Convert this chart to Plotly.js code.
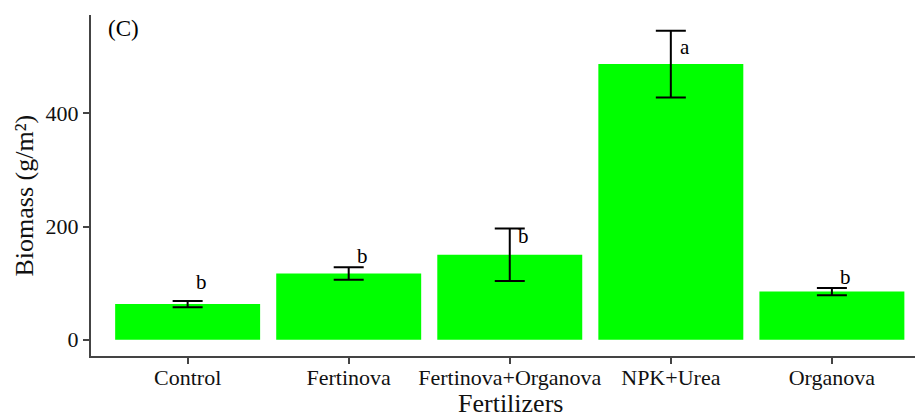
<!DOCTYPE html>
<html>
<head>
<meta charset="utf-8">
<script src="https://cdn.plot.ly/plotly-3.0.1.min.js"></script>
<style>html,body{margin:0;padding:0;background:#fff;}#chart{width:915px;height:417px;}</style>
</head>
<body>
<div id="chart"></div>
<script>
const categories = ["Control", "Fertinova", "Fertinova+Organova", "NPK+Urea", "Organova"];
const biomass = [63, 117, 150, 487, 85];
const biomassErr = [5.5, 11, 46.5, 59, 6.5];
const groupLetters = ["b", "b", "b", "a", "b"];
const letterY = [102, 148, 183, 517, 111];
const yTicks = [0, 200, 400];
const xTitle = "Fertilizers";
const yTitle = "Biomass (g/m²)";
const panelLabel = "(C)";

const serif = "Liberation Serif, Times New Roman, serif";

const trace = {
  type: "bar",
  x: categories,
  y: biomass,
  marker: {color: "#00ff00", line: {width: 0}},
  error_y: {type: "data", array: biomassErr, visible: true, color: "#000000", thickness: 2, width: 15},
  hoverinfo: "x+y"
};

const annotations = categories.map((c, i) => ({
  x: c, y: letterY[i], xref: "x", yref: "y",
  text: groupLetters[i], showarrow: false, xshift: 14,
  xanchor: "center", yanchor: "middle",
  font: {family: serif, size: 21, color: "#000"}
}));
annotations.push({
  xref: "paper", yref: "paper", x: 0, y: 1, xshift: 15, yshift: -13,
  xanchor: "left", yanchor: "middle", text: panelLabel, showarrow: false,
  font: {family: serif, size: 23, color: "#000"}
});
annotations.push({
  xref: "paper", yref: "paper", x: 0.5, y: 0, xshift: 7, yshift: -47,
  xanchor: "center", yanchor: "middle", text: xTitle, showarrow: false,
  font: {family: serif, size: 26, color: "#111"}
});
annotations.push({
  xref: "paper", yref: "paper", x: 0, y: 0.5, xshift: -67, yshift: -10,
  xanchor: "center", yanchor: "middle", text: yTitle, showarrow: false, textangle: -90,
  font: {family: serif, size: 26, color: "#111"}
});

const layout = {
  width: 915, height: 417,
  margin: {l: 91, r: 0, t: 15, b: 61, pad: 0},
  paper_bgcolor: "#fff", plot_bgcolor: "#fff",
  bargap: 0.1,
  showlegend: false,
  xaxis: {
    type: "category",
    range: [-0.6, 4.516],
    showline: true, linecolor: "#444", linewidth: 2,
    ticks: "outside", ticklen: 6, tickwidth: 2, tickcolor: "#444",
    ticklabelstandoff: -5,
    showgrid: false, zeroline: false,
    tickfont: {family: serif, size: 22, color: "#111"}
  },
  yaxis: {
    range: [-28.8, 573.7],
    tickvals: yTicks,
    showline: true, linecolor: "#444", linewidth: 2,
    ticks: "outside", ticklen: 6, tickwidth: 2, tickcolor: "#444",
    showgrid: false, zeroline: false,
    tickfont: {family: serif, size: 22, color: "#111"}
  },
  annotations: annotations
};

Plotly.newPlot("chart", [trace], layout, {displayModeBar: false, staticPlot: true});
</script>
</body>
</html>
